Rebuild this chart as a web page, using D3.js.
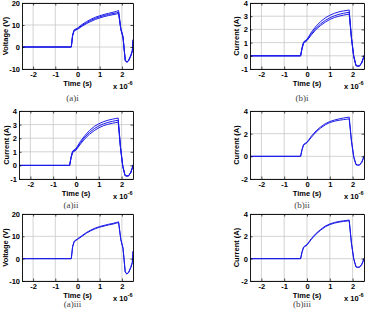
<!DOCTYPE html>
<html>
<head>
	<meta charset="utf-8">
	<script src="https://d3js.org/d3.v7.min.js"></script>
	<style>
		body { margin: 0; background: #fff; }
		svg { display: block; }
		.tick text { font-family: "Liberation Sans", Arial, sans-serif; font-weight: bold; font-size: 7.5px; fill: #000; }
		.lbl { font-family: "Liberation Sans", Arial, sans-serif; font-weight: bold; font-size: 7.5px; fill: #000; }
		.cap { font-family: "Liberation Serif", "Times New Roman", serif; font-size: 9px; fill: #444; }
		.grid line { stroke: #c8c8c8; stroke-width: 0.8; }
		.trace { fill: none; stroke: #1c1ce8; stroke-width: 1; stroke-linejoin: round; }
	</style>
</head>
<body>
	<svg width="365" height="310"></svg>
	<script>
		// time axis (x 10^-6 s), shared by all traces
		var time = [-2.5, -0.28, -0.22, -0.15, 0, 0.2, 0.4, 0.6, 0.8, 1.0, 1.2, 1.4, 1.6, 1.75, 1.85, 1.95, 2.05, 2.15, 2.22, 2.3, 2.4, 2.47, 2.5];

		var xTicks = [-2, -1, 0, 1, 2];
		var voltTicks = [-10, 0, 10, 20];
		var curTicksA = [-1, 0, 1, 2, 3, 4];
		var curTicksB = [-2, 0, 2, 4];

		// (a)i voltage
		var va1 = [0, 0, 5.0, 7.4, 8.0, 9.4, 10.6, 11.6, 12.5, 13.2, 13.8, 14.3, 14.7, 15.0, 15.2, 8.0, 4.2, -6.2, -7.0, -6.4, -4.2, -2.0, 3.0];
		var va2 = [0, 0, 5.3, 7.6, 8.3, 9.8, 11.0, 12.1, 13.0, 13.7, 14.3, 14.8, 15.2, 15.5, 15.8, 8.3, 4.5, -6.0, -6.9, -6.2, -4.0, -1.8, 3.2];
		var va3 = [0, 0, 5.6, 7.8, 8.6, 10.2, 11.5, 12.6, 13.5, 14.2, 14.8, 15.3, 15.8, 16.2, 16.6, 8.6, 4.8, -5.8, -6.8, -6.0, -3.8, -1.6, 3.4];

		// (b)i current
		var ib1 = [0, 0, 0.5, 0.95, 1.15, 1.6, 2.0, 2.3, 2.55, 2.75, 2.9, 3.0, 3.08, 3.13, 3.16, 1.3, -0.1, -0.75, -0.78, -0.78, -0.55, -0.2, 0];
		var ib2 = [0, 0, 0.55, 1.0, 1.2, 1.7, 2.1, 2.42, 2.68, 2.88, 3.03, 3.14, 3.22, 3.27, 3.3, 1.35, -0.05, -0.75, -0.78, -0.78, -0.55, -0.2, 0];
		var ib3 = [0, 0, 0.6, 1.05, 1.25, 1.8, 2.25, 2.6, 2.87, 3.07, 3.22, 3.33, 3.4, 3.44, 3.47, 1.4, 0, -0.72, -0.76, -0.76, -0.5, -0.15, 0.05];

		// (a)ii current
		var iaa1 = [0, 0, 0.5, 0.95, 1.12, 1.58, 1.98, 2.3, 2.56, 2.76, 2.92, 3.02, 3.1, 3.15, 3.18, 1.3, -0.1, -0.75, -0.78, -0.78, -0.55, -0.2, 0];
		var iaa2 = [0, 0, 0.55, 1.0, 1.18, 1.68, 2.1, 2.43, 2.7, 2.9, 3.05, 3.16, 3.24, 3.29, 3.32, 1.35, -0.05, -0.75, -0.78, -0.78, -0.55, -0.2, 0];
		var iaa3 = [0, 0, 0.6, 1.05, 1.24, 1.78, 2.22, 2.58, 2.86, 3.06, 3.21, 3.32, 3.4, 3.45, 3.48, 1.4, 0, -0.72, -0.76, -0.76, -0.5, -0.15, 0.05];

		// (b)ii current
		var ibb1 = [0, 0, 0.55, 1.0, 1.2, 1.7, 2.15, 2.5, 2.78, 2.98, 3.1, 3.18, 3.24, 3.28, 3.3, 1.3, -0.1, -0.75, -0.78, -0.78, -0.55, -0.2, 0];
		var ibb2 = [0, 0, 0.6, 1.05, 1.25, 1.8, 2.25, 2.6, 2.88, 3.07, 3.2, 3.3, 3.38, 3.43, 3.47, 1.4, 0, -0.72, -0.76, -0.76, -0.5, -0.15, 0.05];

		// (a)iii voltage
		var vc1 = [0, 0, 5.2, 7.6, 8.6, 10.0, 11.4, 12.5, 13.4, 14.1, 14.6, 15.1, 15.5, 15.9, 16.2, 8.5, 4.6, -6.0, -6.9, -6.3, -4.0, -1.8, 3.2];
		var vc2 = [0, 0, 5.5, 7.8, 8.9, 10.3, 11.7, 12.8, 13.7, 14.4, 14.9, 15.4, 15.8, 16.2, 16.5, 8.8, 4.8, -5.8, -6.8, -6.1, -3.9, -1.6, 3.4];

		// (b)iii current
		var icc1 = [0, 0, 0.55, 1.0, 1.22, 1.75, 2.2, 2.55, 2.85, 3.05, 3.18, 3.27, 3.33, 3.37, 3.4, 1.35, -0.05, -0.75, -0.78, -0.78, -0.55, -0.2, 0];
		var icc2 = [0, 0, 0.6, 1.05, 1.27, 1.82, 2.27, 2.62, 2.92, 3.11, 3.24, 3.33, 3.39, 3.43, 3.46, 1.4, 0, -0.72, -0.76, -0.76, -0.5, -0.15, 0.05];

		var panels = [
			{l: 22, r: 133, t: 3, b: 69, y: [-10, 20], ticks: voltTicks, ylab: "Voltage (V)", ylx: 8, cap: "(a)i", capy: 101, traces: [va1, va2, va3]},
			{l: 250, r: 364, t: 3, b: 69, y: [-1, 4], ticks: curTicksA, ylab: "Current (A)", ylx: 239, cap: "(b)i", capy: 101, traces: [ib1, ib2, ib3]},
			{l: 19, r: 133, t: 111, b: 179, y: [-1, 4], ticks: curTicksA, ylab: "Current (A)", ylx: 9, cap: "(a)ii", capy: 208, traces: [iaa1, iaa2, iaa3]},
			{l: 250, r: 364, t: 111, b: 179, y: [-2, 4], ticks: curTicksB, ylab: "Current (A)", ylx: 239, cap: "(b)ii", capy: 208, traces: [ibb1, ibb2]},
			{l: 22, r: 133, t: 214, b: 281, y: [-10, 20], ticks: voltTicks, ylab: "Voltage (V)", ylx: 8, cap: "(a)iii", capy: 307, traces: [vc1, vc2]},
			{l: 250, r: 364, t: 214, b: 281, y: [-2, 4], ticks: curTicksB, ylab: "Current (A)", ylx: 239, cap: "(b)iii", capy: 307, traces: [icc1, icc2]}
		];

		var svg = d3.select("svg");

		panels.forEach(function(p, i) {
			var w = p.r - p.l, h = p.b - p.t;
			var x = d3.scaleLinear().domain([-2.5, 2.5]).range([0, w]);
			var y = d3.scaleLinear().domain(p.y).range([h, 0]);

			var g = svg.append("g")
				.attr("transform", "translate(" + p.l + "," + p.t + ")");

			g.append("clipPath").attr("id", "clip" + i)
				.append("rect").attr("width", w).attr("height", h);

			// grid
			g.append("g").attr("class", "grid")
				.selectAll("line").data(xTicks).enter().append("line")
				.attr("x1", function(d) { return x(d); }).attr("x2", function(d) { return x(d); })
				.attr("y1", 0).attr("y2", h);
			g.append("g").attr("class", "grid")
				.selectAll("line").data(p.ticks).enter().append("line")
				.attr("y1", function(d) { return y(d); }).attr("y2", function(d) { return y(d); })
				.attr("x1", 0).attr("x2", w);

			// traces
			var line = d3.line()
				.x(function(d, k) { return x(time[k]); })
				.y(function(d) { return y(d); });
			g.append("g").attr("clip-path", "url(#clip" + i + ")")
				.selectAll("path").data(p.traces).enter().append("path")
				.attr("class", "trace")
				.attr("d", line);

			// axes
			var fmt = function(d) { return String(d); };
			g.append("g")
				.attr("transform", "translate(0," + h + ")")
				.call(d3.axisBottom(x).tickValues(xTicks).tickFormat(fmt).tickSizeInner(-2.5).tickSizeOuter(0).tickPadding(3));
			g.append("g")
				.call(d3.axisLeft(y).tickValues(p.ticks).tickFormat(fmt).tickSizeInner(-2.5).tickSizeOuter(0).tickPadding(2));
			g.append("g")
				.call(d3.axisTop(x).tickValues(xTicks).tickFormat("").tickSizeInner(-2.5).tickSizeOuter(0));
			g.append("g")
				.attr("transform", "translate(" + w + ",0)")
				.call(d3.axisRight(y).tickValues(p.ticks).tickFormat("").tickSizeInner(-2.5).tickSizeOuter(0));
			g.selectAll(".domain").attr("stroke", "#000").attr("stroke-width", 0.9);
			g.selectAll(".tick line").attr("stroke", "#000").attr("stroke-width", 0.7);

			// labels
			g.append("text").attr("class", "lbl")
				.attr("x", w / 2).attr("y", h + 16.5)
				.attr("text-anchor", "middle")
				.text("Time (s)");
			var ex = g.append("text").attr("class", "lbl")
				.attr("x", w - 20).attr("y", h + 20);
			ex.append("tspan").text("x 10");
			ex.append("tspan").attr("dy", -4).attr("font-size", "5.5px").text("-6");

			svg.append("text").attr("class", "lbl")
				.attr("transform", "translate(" + p.ylx + "," + (p.t + h / 2) + ") rotate(-90)")
				.attr("text-anchor", "middle")
				.text(p.ylab);

			svg.append("text").attr("class", "cap")
				.attr("x", p.l + w / 2 - 5).attr("y", p.capy)
				.attr("text-anchor", "middle")
				.text(p.cap);
		});
	</script>
</body>
</html>
